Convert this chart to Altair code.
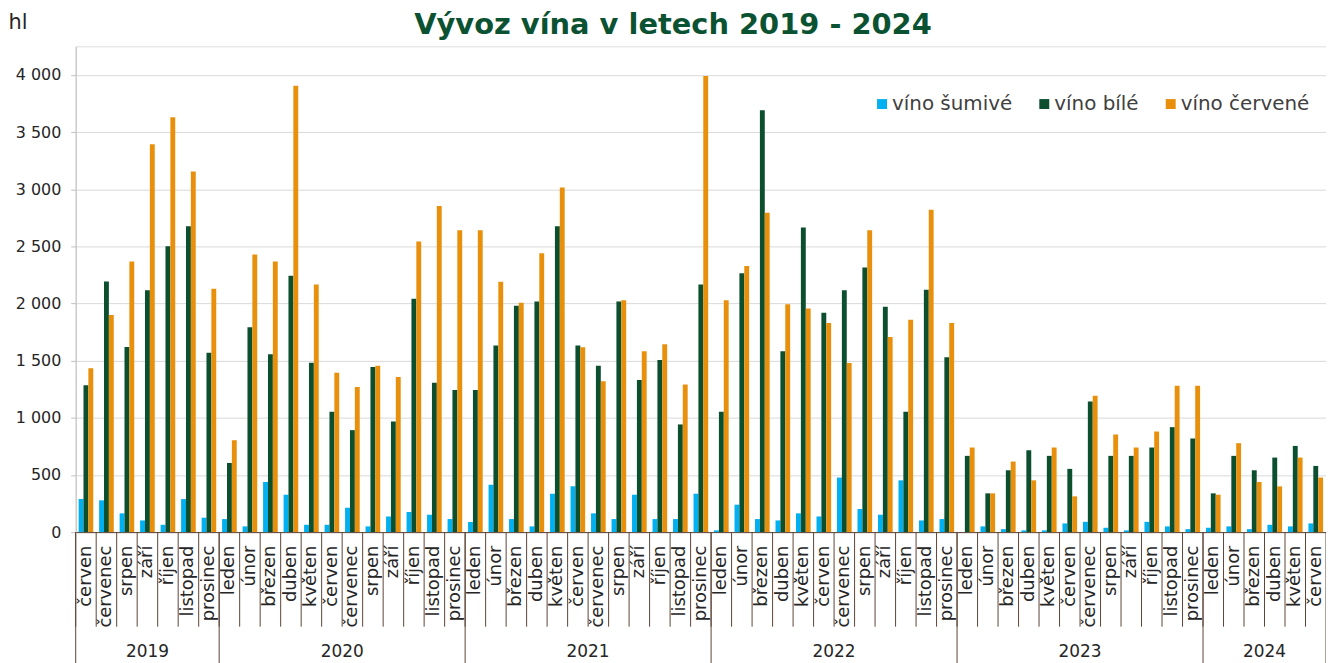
import altair as alt
import pandas as pd

# ---- data ----
years_months = [
    (2019, ["červen", "červenec", "srpen", "září", "říjen", "listopad", "prosinec"]),
    (2020, ["leden", "únor", "březen", "duben", "květen", "červen", "červenec", "srpen", "září", "říjen", "listopad", "prosinec"]),
    (2021, ["leden", "únor", "březen", "duben", "květen", "červen", "červenec", "srpen", "září", "říjen", "listopad", "prosinec"]),
    (2022, ["leden", "únor", "březen", "duben", "květen", "červen", "červenec", "srpen", "září", "říjen", "listopad", "prosinec"]),
    (2023, ["leden", "únor", "březen", "duben", "květen", "červen", "červenec", "srpen", "září", "říjen", "listopad", "prosinec"]),
    (2024, ["leden", "únor", "březen", "duben", "květen", "červen"]),
]

vino_sumive = [
    290, 278, 164, 102, 64, 289, 126,
    114, 50, 439, 327, 64, 64, 213, 50, 137, 175, 152, 114,
    88, 415, 114, 50, 336, 401, 164, 114, 327, 114, 114, 336,
    15, 240, 114, 102, 164, 137, 477, 202, 152, 453, 102, 114,
    0, 50, 26, 15, 15, 76, 90, 38, 15, 90, 50, 26,
    38, 50, 26, 64, 50, 76,
]
vino_bile = [
    1284, 2192, 1620, 2117, 2501, 2676, 1570,
    605, 1792, 1556, 2242, 1482, 1053, 892, 1444, 968, 2041, 1307, 1243,
    1243, 1632, 1980, 2017, 2676, 1632, 1456, 2017, 1330, 1506, 942, 2166,
    1053, 2265, 3691, 1582, 2665, 1918, 2117, 2315, 1971, 1053, 2120, 1529,
    667, 339, 541, 716, 667, 553, 1143, 667, 667, 740, 918, 819,
    339, 667, 541, 652, 754, 579,
]
vino_cervene = [
    1433, 1900, 2367, 3394, 3630, 3155, 2128,
    804, 2429, 2367, 3904, 2166, 1395, 1269, 1456, 1357, 2542, 2854, 2641,
    2641, 2190, 2006, 2440, 3015, 1617, 1319, 2029, 1582, 1643, 1292, 3990,
    2029, 2327, 2793, 1994, 1956, 1830, 1480, 2641, 1708, 1857, 2820, 1830,
    740, 339, 617, 453, 740, 313, 1193, 854, 740, 880, 1281, 1281,
    327, 778, 439, 400, 652, 477,
]

series_names = ["víno šumivé", "víno bílé", "víno červené"]
series_colors = ["#00b0f0", "#0b4f2f", "#e8900c"]
y_ticks = [0, 500, 1000, 1500, 2000, 2500, 3000, 3500, 4000]

# ---- tables ----
keys = []
for yr, months in years_months:
    for m in months:
        keys.append(f"{yr}|{m}")

rows = []
for i, k in enumerate(keys):
    for s, vals in zip(series_names, [vino_sumive, vino_bile, vino_cervene]):
        rows.append({"key": k, "series": s, "value": vals[i]})
bars_df = pd.DataFrame(rows)

months_df = pd.DataFrame({"key": keys})
year_start_df = pd.DataFrame({"key": [f"{yr}|{ms[0]}" for yr, ms in years_months]})
end_df = pd.DataFrame({"key": [keys[-1]]})

odd_rows, even_rows = [], []
for yr, ms in years_months:
    mid = len(ms) // 2
    if len(ms) % 2 == 1:
        odd_rows.append({"key": f"{yr}|{ms[mid]}", "year": str(yr)})
    else:
        even_rows.append({"key": f"{yr}|{ms[mid]}", "year": str(yr)})
odd_df = pd.DataFrame(odd_rows)
even_df = pd.DataFrame(even_rows)

W, H = 1256, 488
BROWN = "#5e4536"
FONT = "DejaVu Sans"

xscale = alt.Scale(domain=keys, paddingInner=0, paddingOuter=0)

bars = alt.Chart(bars_df).mark_bar().encode(
    x=alt.X("key:N", sort=keys, scale=xscale, title=None,
            axis=alt.Axis(labelExpr="split(datum.value, '|')[1]", labelAngle=-90,
                          labelAlign="right", labelBaseline="middle", labelPadding=13,
                          labelFontSize=18, labelFont=FONT, labelColor="#262626",
                          ticks=False, domainColor=BROWN, domainWidth=1,
                          labelOverlap=False, labelBound=False, grid=False)),
    xOffset=alt.XOffset("series:N", sort=series_names,
                        scale=alt.Scale(domain=series_names, paddingInner=0, paddingOuter=0.6)),
    y=alt.Y("value:Q", scale=alt.Scale(domain=[0, 4250], nice=False),
            axis=alt.Axis(values=y_ticks,
                          labelExpr="replace(format(datum.value, ','), ',', ' ')",
                          grid=True, gridColor="#d9d9d9", domainColor="#bfbfbf",
                          tickColor="#bfbfbf", tickSize=5, labelPadding=10,
                          labelFontSize=16, labelFont=FONT, labelColor="#262626",
                          title="hl", titleAngle=0, titleX=-68, titleY=-18,
                          titleAlign="left", titleBaseline="alphabetic",
                          titleFontSize=21, titleFontWeight="normal", titleFont=FONT,
                          titleColor="#262626")),
    color=alt.Color("series:N", sort=series_names,
                    scale=alt.Scale(domain=series_names, range=series_colors),
                    legend=alt.Legend(title=None, orient="none", legendX=800, legendY=48,
                                      direction="horizontal", symbolType="square",
                                      symbolSize=100, symbolStrokeWidth=0,
                                      labelFontSize=20, labelFont=FONT, labelColor="#404040",
                                      labelOffset=0, columnPadding=22)),
)

month_sep = alt.Chart(months_df).mark_rule(color=BROWN, strokeWidth=1).encode(
    x=alt.X("key:N", sort=keys, scale=xscale, bandPosition=0),
    y=alt.value(H), y2=alt.value(H + 95),
)
year_sep = alt.Chart(year_start_df).mark_rule(color=BROWN, strokeWidth=1).encode(
    x=alt.X("key:N", sort=keys, scale=xscale, bandPosition=0),
    y=alt.value(H), y2=alt.value(H + 140),
)
end_sep = alt.Chart(end_df).mark_rule(color=BROWN, strokeWidth=1).encode(
    x=alt.X("key:N", sort=keys, scale=xscale, bandPosition=1),
    y=alt.value(H), y2=alt.value(H + 140),
)
year_odd = alt.Chart(odd_df).mark_text(fontSize=17, font=FONT, color="#262626",
                                       baseline="alphabetic", align="center").encode(
    x=alt.X("key:N", sort=keys, scale=xscale, bandPosition=0.5),
    y=alt.value(H + 125), text="year:N",
)
year_even = alt.Chart(even_df).mark_text(fontSize=17, font=FONT, color="#262626",
                                         baseline="alphabetic", align="center").encode(
    x=alt.X("key:N", sort=keys, scale=xscale, bandPosition=0),
    y=alt.value(H + 125), text="year:N",
)
title_df = pd.DataFrame({"t": ["Vývoz vína v letech 2019 - 2024"]})
title = alt.Chart(title_df).mark_text(fontSize=29, font=FONT, fontWeight="bold",
                                      color="#0b5232", baseline="alphabetic",
                                      align="center").encode(
    x=alt.value(600), y=alt.value(-12), text="t:N",
)

chart = alt.layer(bars, month_sep, year_sep, end_sep, year_odd, year_even, title).properties(
    width=W, height=H, autosize="none",
    padding={"left": 68, "top": 37, "right": 0, "bottom": 130},
).configure_view(stroke=None).configure(background="white")

chart.save("out.html", embed_options={"renderer": "svg", "actions": False})
